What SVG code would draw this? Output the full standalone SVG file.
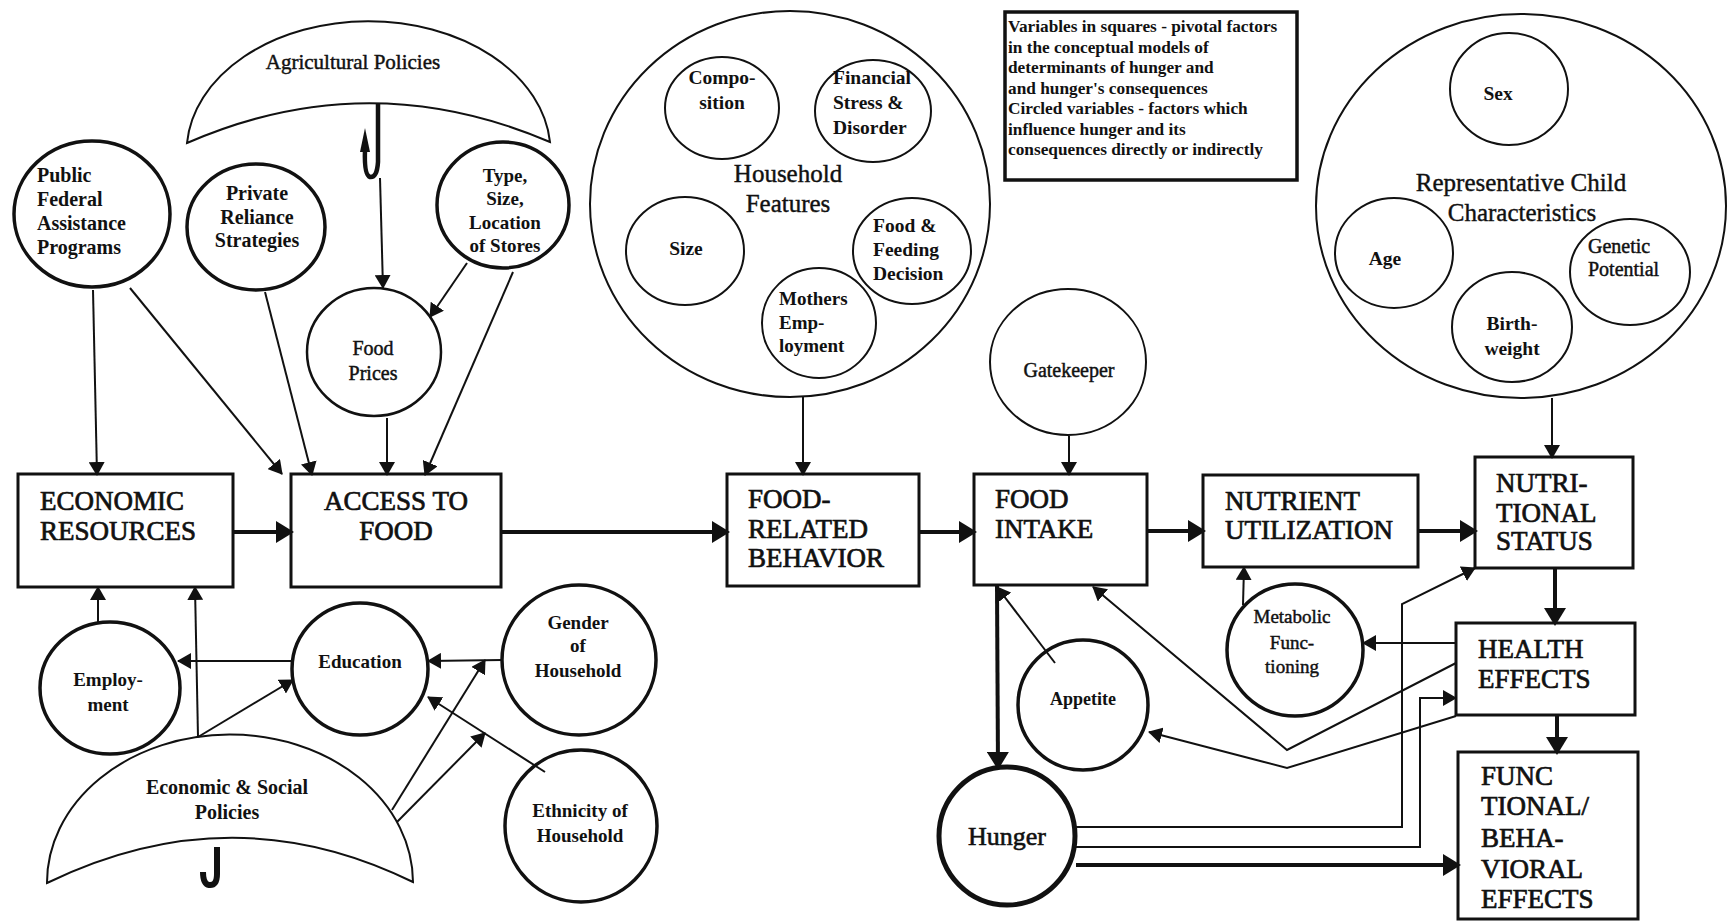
<svg xmlns="http://www.w3.org/2000/svg" width="1727" height="922" viewBox="0 0 1727 922">
<defs>
<style>
text{font-family:"Liberation Serif","Times New Roman",serif;fill:#111}
.c{fill:#fff;stroke:#111;stroke-width:2}
.ct{fill:#fff;stroke:#111;stroke-width:3.5}
.bx{fill:#fff;stroke:#111;stroke-width:3}
.b{font-size:27px;stroke:#111;stroke-width:0.7}
.s{font-size:20px;font-weight:bold}
.r{font-size:20px;stroke:#111;stroke-width:0.45}
.big{font-size:25px;stroke:#111;stroke-width:0.4}
.lg{font-size:17.3px;font-weight:bold}
.m{text-anchor:middle}
.l{fill:none;stroke:#111;stroke-width:2;marker-end:url(#a)}
.L{fill:none;stroke:#111;stroke-width:4;marker-end:url(#A)}
</style>
<marker id="a" viewBox="0 0 14 16" refX="13" refY="8" markerWidth="14" markerHeight="16" markerUnits="userSpaceOnUse" orient="auto"><path d="M0,0 L14,8 L0,16 z" fill="#111"/></marker>
<marker id="A" viewBox="0 0 18 22" refX="16" refY="11" markerWidth="18" markerHeight="22" markerUnits="userSpaceOnUse" orient="auto"><path d="M0,0 L18,11 L0,22 z" fill="#111"/></marker>
</defs>
<rect width="1727" height="922" fill="#fff"/>

<g id="agri">
<path d="M187,143 A182,131 0 0 1 550,142 Q368,64 187,143 Z" class="c"/>
<text x="353" y="69" class="r m" style="font-size:21px">Agricultural Policies</text>
<path d="M378,104 V162 Q377,178 370,177 Q364,175 365,150" fill="none" stroke="#111" stroke-width="4.5"/>
<path d="M360,152 L365,128 L370,152 Z" fill="#111"/>
</g>

<g id="public"><ellipse cx="92" cy="214" rx="78" ry="73" class="ct"/>
<text class="s"><tspan x="37" y="182">Public</tspan><tspan x="37" y="206">Federal</tspan><tspan x="37" y="230">Assistance</tspan><tspan x="37" y="254">Programs</tspan></text></g>

<g id="private"><ellipse cx="256" cy="227" rx="69" ry="63" class="ct"/>
<text class="s m"><tspan x="257" y="200">Private</tspan><tspan x="257" y="224">Reliance</tspan><tspan x="257" y="247">Strategies</tspan></text></g>

<g id="stores"><ellipse cx="503" cy="205" rx="66" ry="63" class="ct"/>
<text class="s m" style="font-size:19px"><tspan x="505" y="182">Type,</tspan><tspan x="505" y="205">Size,</tspan><tspan x="505" y="229">Location</tspan><tspan x="505" y="252">of Stores</tspan></text></g>

<g id="prices"><ellipse cx="374" cy="352" rx="67" ry="64" class="c" style="stroke-width:2.5"/>
<text class="r m"><tspan x="373" y="355">Food</tspan><tspan x="373" y="380">Prices</tspan></text></g>

<g id="household">
<ellipse cx="790" cy="204" rx="200" ry="193" class="c"/>
<text class="big m"><tspan x="788" y="182">Household</tspan><tspan x="788" y="212">Features</tspan></text>
<ellipse cx="722" cy="108" rx="57" ry="51" class="c"/>
<text class="s m" style="font-size:19.5px"><tspan x="722" y="84">Compo-</tspan><tspan x="722" y="109">sition</tspan></text>
<ellipse cx="873" cy="111" rx="58" ry="51" class="c"/>
<text class="s" style="font-size:19.5px"><tspan x="833" y="84">Financial</tspan><tspan x="833" y="109">Stress &amp;</tspan><tspan x="833" y="134">Disorder</tspan></text>
<ellipse cx="685" cy="251" rx="59" ry="54" class="c"/>
<text x="686" y="255" class="s m" style="font-size:19.5px">Size</text>
<ellipse cx="912" cy="251" rx="59" ry="53" class="c"/>
<text class="s" style="font-size:19.5px"><tspan x="873" y="232">Food &amp;</tspan><tspan x="873" y="256">Feeding</tspan><tspan x="873" y="280">Decision</tspan></text>
<ellipse cx="819" cy="323" rx="57" ry="55" class="c"/>
<text class="s" style="font-size:19px"><tspan x="779" y="305">Mothers</tspan><tspan x="779" y="329">Emp-</tspan><tspan x="779" y="352">loyment</tspan></text>
</g>

<g id="legend"><rect x="1005" y="12" width="292" height="168" fill="#fff" stroke="#111" stroke-width="3.5"/>
<text class="lg"><tspan x="1008" y="32">Variables in squares - pivotal factors</tspan><tspan x="1008" y="52.5">in the conceptual models of</tspan><tspan x="1008" y="73">determinants of hunger and</tspan><tspan x="1008" y="93.5">and hunger's consequences</tspan><tspan x="1008" y="114">Circled variables - factors which</tspan><tspan x="1008" y="134.5">influence hunger and its</tspan><tspan x="1008" y="155">consequences directly or indirectly</tspan></text></g>

<g id="gatekeeper"><ellipse cx="1068" cy="362" rx="78" ry="73" class="c"/>
<text x="1069" y="377" class="r m">Gatekeeper</text></g>

<g id="child">
<ellipse cx="1521" cy="206" rx="205" ry="192" class="c"/>
<ellipse cx="1509" cy="89" rx="59" ry="56" class="c"/>
<text x="1498" y="100" class="s m" style="font-size:19.5px">Sex</text>
<ellipse cx="1394" cy="253" rx="59" ry="55" class="c"/>
<text x="1385" y="265" class="s m" style="font-size:19.5px">Age</text>
<ellipse cx="1512" cy="327" rx="60" ry="55" class="c"/>
<text class="s m" style="font-size:19.5px"><tspan x="1512" y="330">Birth-</tspan><tspan x="1512" y="355">weight</tspan></text>
<ellipse cx="1630" cy="272" rx="60" ry="53" class="c"/>
<text class="r"><tspan x="1588" y="253">Genetic</tspan><tspan x="1588" y="276">Potential</tspan></text>
<text class="big m"><tspan x="1521" y="191">Representative Child</tspan><tspan x="1522" y="221">Characteristics</tspan></text>
</g>

<g id="econ"><rect x="18" y="474" width="215" height="113" class="bx"/>
<text class="b"><tspan x="40" y="510">ECONOMIC</tspan><tspan x="40" y="540">RESOURCES</tspan></text></g>
<g id="access"><rect x="291" y="474" width="210" height="113" class="bx"/>
<text class="b m"><tspan x="396" y="510">ACCESS TO</tspan><tspan x="396" y="540">FOOD</tspan></text></g>
<g id="frb"><rect x="727" y="474" width="192" height="112" class="bx"/>
<text class="b"><tspan x="748" y="508">FOOD-</tspan><tspan x="748" y="538">RELATED</tspan><tspan x="748" y="567">BEHAVIOR</tspan></text></g>
<g id="intake"><rect x="974" y="474" width="173" height="111" class="bx"/>
<text class="b"><tspan x="995" y="508">FOOD</tspan><tspan x="995" y="538">INTAKE</tspan></text></g>
<g id="nutrient"><rect x="1203" y="475" width="215" height="92" class="bx"/>
<text class="b"><tspan x="1225" y="510">NUTRIENT</tspan><tspan x="1225" y="539">UTILIZATION</tspan></text></g>
<g id="status"><rect x="1475" y="457" width="158" height="111" class="bx"/>
<text class="b"><tspan x="1496" y="492">NUTRI-</tspan><tspan x="1496" y="522">TIONAL</tspan><tspan x="1496" y="550">STATUS</tspan></text></g>
<g id="health"><rect x="1456" y="623" width="179" height="92" class="bx"/>
<text class="b"><tspan x="1478" y="658">HEALTH</tspan><tspan x="1478" y="688">EFFECTS</tspan></text></g>
<g id="functional"><rect x="1458" y="752" width="180" height="167" class="bx"/>
<text class="b"><tspan x="1481" y="785">FUNC</tspan><tspan x="1481" y="815">TIONAL/</tspan><tspan x="1481" y="847">BEHA-</tspan><tspan x="1481" y="878">VIORAL</tspan><tspan x="1481" y="908">EFFECTS</tspan></text></g>

<g id="employment"><ellipse cx="110" cy="688" rx="70" ry="66" class="ct"/>
<text class="s m" style="font-size:19px"><tspan x="108" y="686">Employ-</tspan><tspan x="108" y="711">ment</tspan></text></g>
<g id="education"><ellipse cx="360" cy="669" rx="68" ry="66" class="ct"/>
<text x="360" y="668" class="s m" style="font-size:19px">Education</text></g>
<g id="gender"><ellipse cx="579" cy="660" rx="77" ry="75" class="ct"/>
<text class="s m" style="font-size:19px"><tspan x="578" y="629">Gender</tspan><tspan x="578" y="652">of</tspan><tspan x="578" y="677">Household</tspan></text></g>
<g id="ethnicity"><ellipse cx="581" cy="826" rx="76" ry="76" class="ct"/>
<text class="s m" style="font-size:19px"><tspan x="580" y="817">Ethnicity of</tspan><tspan x="580" y="842">Household</tspan></text></g>

<g id="policies">
<path d="M47,883 A183,148 0 0 1 413,882 Q232,793 47,883 Z" class="c"/>
<text class="s m"><tspan x="227" y="794">Economic &amp; Social</tspan><tspan x="227" y="819">Policies</tspan></text>
<path d="M217,847 V874 Q217,886 209,885 Q203,884 203,872" fill="none" stroke="#111" stroke-width="6"/>
</g>

<g id="appetite"><ellipse cx="1083" cy="705" rx="65" ry="65" class="ct"/>
<text x="1083" y="705" class="s m" style="font-size:18px">Appetite</text></g>
<g id="metabolic"><ellipse cx="1295" cy="650" rx="68" ry="66" class="ct"/>
<text class="r m" style="font-size:19px"><tspan x="1292" y="623">Metabolic</tspan><tspan x="1292" y="649">Func-</tspan><tspan x="1292" y="673">tioning</tspan></text></g>
<g id="hunger"><ellipse cx="1007" cy="836" rx="68" ry="69" fill="#fff" stroke="#111" stroke-width="5"/>
<text x="1007" y="845" class="m" style="font-size:26px;stroke:#111;stroke-width:0.6">Hunger</text></g>

<g id="connectors">
<path class="l" d="M380,178 L383,288"/>
<path class="l" d="M467,263 L430,317"/>
<path class="l" d="M93,290 L97,475"/>
<path class="l" d="M130,288 L282,474"/>
<path class="l" d="M265,292 L312,475"/>
<path class="l" d="M387,418 L387,475"/>
<path class="l" d="M513,272 L425,475"/>
<path class="l" d="M803,397 L803,475"/>
<path class="l" d="M1069,436 L1069,475"/>
<path class="l" d="M1552,398 L1552,458"/>
<path class="l" d="M98,622 L98,587"/>
<path class="l" d="M198,737 L195,587"/>
<path class="l" d="M198,737 L293,680"/>
<path class="l" d="M292,661 L178,661"/>
<path class="l" d="M502,660 L428,661"/>
<path class="l" d="M392,810 L485,660"/>
<path class="l" d="M397,822 L485,733"/>
<path class="l" d="M545,772 L428,697"/>
<path class="l" d="M1055,663 L997,587"/>
<path class="l" d="M1243,605 L1244,567"/>
<path class="l" d="M1456,643 L1363,643"/>
<path class="l" d="M1076,827 L1402,827 L1402,604 L1475,568"/>
<path class="l" d="M1076,847 L1420,847 L1420,698 L1456,698"/>
<path class="l" d="M1456,716 L1287,768 L1149,732"/>
<path class="l" d="M1456,663 L1287,750 L1093,587"/>
<path class="L" d="M233,532 L292,532"/>
<path class="L" d="M501,532 L728,532"/>
<path class="L" d="M919,532 L975,532"/>
<path class="L" d="M1147,531 L1204,531"/>
<path class="L" d="M1418,531 L1476,531"/>
<path class="L" d="M1555,568 L1555,624"/>
<path class="L" d="M1557,715 L1557,753"/>
<path class="L" d="M997,586 L998,768"/>
<path class="L" d="M1076,865 L1459,865"/>
</g>
</svg>
